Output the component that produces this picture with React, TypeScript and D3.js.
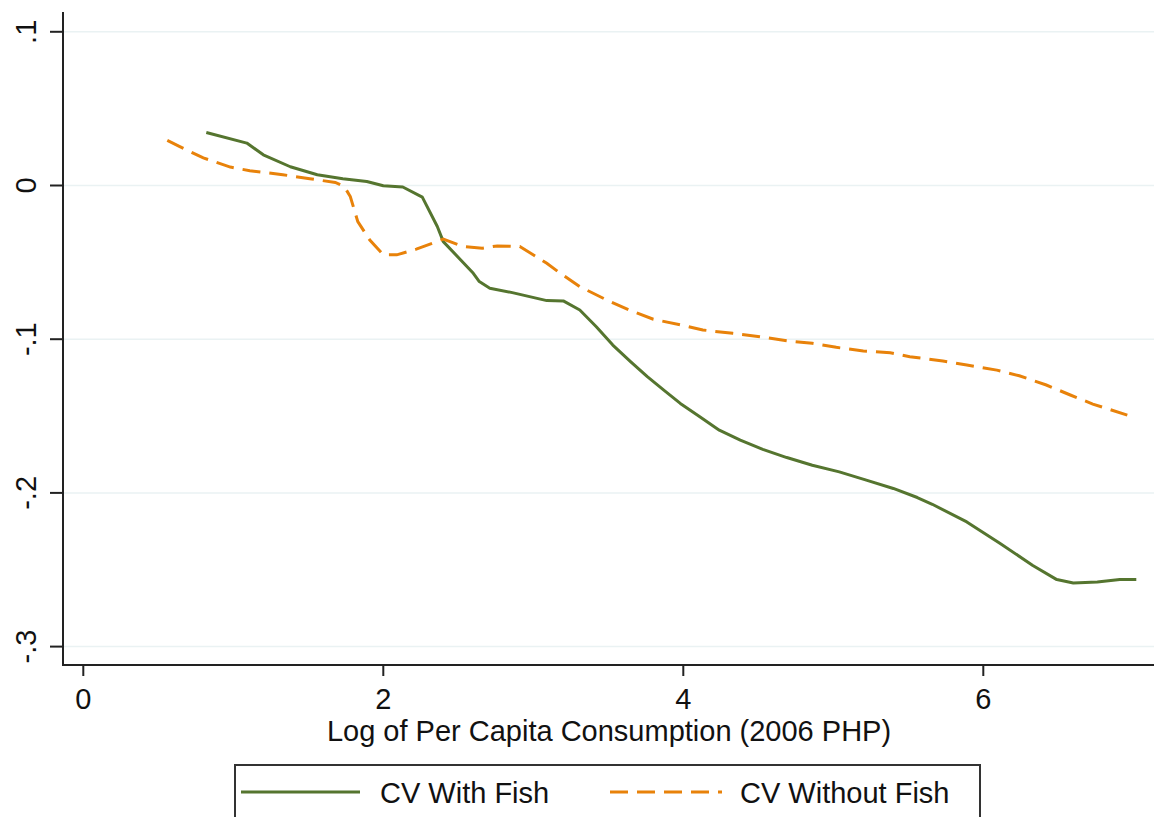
import React from "react";
import * as d3 from "d3";

const withFishX = [0.82, 1.09, 1.2, 1.38, 1.56, 1.73, 1.89, 2.0, 2.13, 2.26, 2.36, 2.4, 2.6, 2.64, 2.71, 2.86, 3.09, 3.2, 3.31, 3.42, 3.53, 3.65, 3.76, 3.87, 3.98, 4.11, 4.24, 4.38, 4.53, 4.69, 4.86, 5.04, 5.22, 5.4, 5.56, 5.66, 5.89, 6.11, 6.33, 6.49, 6.6, 6.76, 6.91, 7.02];
const withFishY = [0.0345, 0.0276, 0.02, 0.0122, 0.007, 0.0044, 0.0026, -0.0002, -0.001, -0.0076, -0.0267, -0.0365, -0.0571, -0.0625, -0.0668, -0.0697, -0.0749, -0.0751, -0.081, -0.0919, -0.1038, -0.1147, -0.1244, -0.1331, -0.1418, -0.1505, -0.1592, -0.1657, -0.1717, -0.177, -0.182, -0.1863, -0.1917, -0.1971, -0.203, -0.2074, -0.2189, -0.2328, -0.2472, -0.2564, -0.2586, -0.258, -0.2564, -0.2564];

const withoutFishX = [0.56, 0.64, 0.8, 0.98, 1.11, 1.33, 1.51, 1.68, 1.74, 1.78, 1.83, 1.91, 2.0, 2.09, 2.22, 2.4, 2.53, 2.66, 2.76, 2.91, 3.02, 3.09, 3.18, 3.31, 3.49, 3.64, 3.8, 3.98, 4.13, 4.33, 4.51, 4.69, 4.86, 5.02, 5.2, 5.38, 5.51, 5.73, 5.89, 6.09, 6.24, 6.42, 6.58, 6.73, 6.96];
const withoutFishY = [0.0293, 0.0254, 0.018, 0.012, 0.0096, 0.007, 0.0044, 0.002, -0.0007, -0.0072, -0.0235, -0.0355, -0.0451, -0.0451, -0.0414, -0.0349, -0.0397, -0.0408, -0.0393, -0.0397, -0.0463, -0.0506, -0.0571, -0.0658, -0.0745, -0.081, -0.087, -0.0907, -0.094, -0.0962, -0.0984, -0.101, -0.1027, -0.1053, -0.1077, -0.1088, -0.1114, -0.1142, -0.1168, -0.1201, -0.1238, -0.1298, -0.1363, -0.1422, -0.1494];

const xTicks = [0, 2, 4, 6];
const yTicks = [0.1, 0, -0.1, -0.2, -0.3];
const yTickLabels = [".1", "0", "-.1", "-.2", "-.3"];
const seriesNames = ["CV With Fish", "CV Without Fish"];
const xTitle = "Log of Per Capita Consumption (2006 PHP)";

const GREEN = "#55752f";
const ORANGE = "#e8820a";
const FONT = "'Liberation Sans', Arial, sans-serif";

export default function App() {
  const W = 1154, H = 817;
  const axisX = 63, axisY = 665;
  const x = d3.scaleLinear().domain([0, 7]).range([83.3, 1133.3]);
  const y = d3.scaleLinear().domain([-0.3, 0.1]).range([646.6, 31.8]);
  const line = d3.line<[number, number]>().x(d => x(d[0])).y(d => y(d[1])).curve(d3.curveLinear);
  const green = withFishX.map((v, i) => [v, withFishY[i]] as [number, number]);
  const orange = withoutFishX.map((v, i) => [v, withoutFishY[i]] as [number, number]);

  return (
    <svg width={W} height={H} style={{ position: "absolute", left: 0, top: 0, background: "#fff" }} fontFamily={FONT}>
      <rect x={0} y={0} width={W} height={H} fill="#fff" />
      {yTicks.map(t => (
        <line key={"g" + t} x1={axisX} x2={W} y1={y(t)} y2={y(t)} stroke="#eaf2f3" strokeWidth={1.5} />
      ))}
      <path d={line(green) || ""} fill="none" stroke={GREEN} strokeWidth={3} strokeLinejoin="round" />
      <path d={line(orange) || ""} fill="none" stroke={ORANGE} strokeWidth={3} strokeDasharray="18 9" />
      <line x1={axisX} x2={axisX} y1={12} y2={axisY} stroke="#222" strokeWidth={2} />
      <line x1={axisX - 1} x2={W} y1={axisY} y2={axisY} stroke="#222" strokeWidth={2} />
      {yTicks.map((t, i) => (
        <g key={"yt" + t}>
          <line x1={axisX - 13} x2={axisX} y1={y(t)} y2={y(t)} stroke="#222" strokeWidth={2} />
          <text transform={`translate(36,${y(t)}) rotate(-90)`} textAnchor="middle" fontSize={29} fill="#111">{yTickLabels[i]}</text>
        </g>
      ))}
      {xTicks.map(t => (
        <g key={"xt" + t}>
          <line x1={x(t)} x2={x(t)} y1={axisY} y2={axisY + 11} stroke="#222" strokeWidth={2} />
          <text x={x(t)} y={709} textAnchor="middle" fontSize={29} fill="#111">{t}</text>
        </g>
      ))}
      <text x={609} y={741} textAnchor="middle" fontSize={29} fill="#111">{xTitle}</text>
      <rect x={235} y={765} width={745} height={70} fill="#fff" stroke="#333" strokeWidth={2} />
      <line x1={241} x2={360} y1={792} y2={792} stroke={GREEN} strokeWidth={3} />
      <text x={380} y={803} fontSize={29} fill="#111">{seriesNames[0]}</text>
      <line x1={610} x2={722} y1={792} y2={792} stroke={ORANGE} strokeWidth={3} strokeDasharray="18 9" />
      <text x={740} y={803} fontSize={29} fill="#111">{seriesNames[1]}</text>
    </svg>
  );
}
